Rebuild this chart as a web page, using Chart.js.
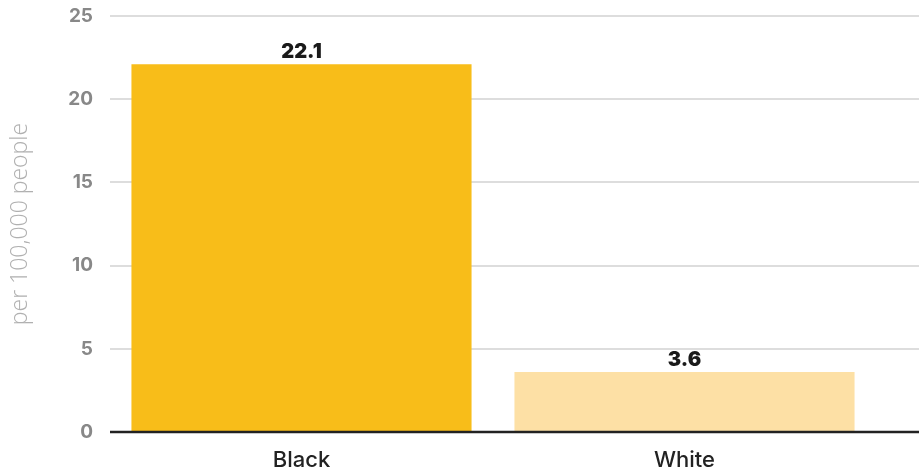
<!DOCTYPE html>
<html>
<head>
<meta charset="utf-8">
<script src="https://cdn.jsdelivr.net/npm/chart.js@4"></script>
<style>
  html, body { margin: 0; padding: 0; background: #ffffff; }
  #wrap { width: 919px; height: 473px; }
</style>
</head>
<body>
<div id="wrap"><canvas id="chart" width="919" height="473"></canvas></div>
<script>
// Rate per 100,000 people, by race
const categories = ['Black', 'White'];
const rates = [22.1, 3.6];
const barColors = ['#F8BD19', '#FDE0A5'];
const yTicks = [0, 5, 10, 15, 20, 25];

// Horizontal grid lines run the full width of the canvas, past the plot area
const fullWidthGrid = {
  id: 'fullWidthGrid',
  beforeDatasetsDraw(chart) {
    const { ctx, chartArea, scales } = chart;
    ctx.save();
    ctx.strokeStyle = '#dddddd';
    ctx.lineWidth = 2;
    yTicks.forEach(v => {
      if (v === 0) return;
      const y = Math.round(scales.y.getPixelForValue(v));
      ctx.beginPath();
      ctx.moveTo(chartArea.left, y);
      ctx.lineTo(chart.width, y);
      ctx.stroke();
    });
    ctx.restore();
  },
  afterDatasetsDraw(chart) {
    const { ctx, chartArea, scales } = chart;
    const y = Math.round(scales.y.getPixelForValue(0));
    ctx.save();
    ctx.strokeStyle = '#222222';
    ctx.lineWidth = 2.5;
    ctx.beginPath();
    ctx.moveTo(chartArea.left, y);
    ctx.lineTo(chart.width, y);
    ctx.stroke();
    ctx.restore();
  }
};

// Value labels above each bar
const valueLabels = {
  id: 'valueLabels',
  afterDatasetsDraw(chart) {
    const { ctx } = chart;
    const meta = chart.getDatasetMeta(0);
    ctx.save();
    ctx.font = '900 20px Inter';
    ctx.fillStyle = '#1a1a1a';
    ctx.textAlign = 'center';
    ctx.textBaseline = 'alphabetic';
    meta.data.forEach((bar, i) => {
      ctx.fillText(rates[i].toFixed(1), bar.x, bar.y - 6);
    });
    ctx.restore();
  }
};

new Chart(document.getElementById('chart'), {
  type: 'bar',
  data: {
    labels: categories,
    datasets: [{
      data: rates,
      backgroundColor: barColors,
      borderWidth: 0,
      barPercentage: 0.888,
      categoryPercentage: 1.0
    }]
  },
  options: {
    responsive: false,
    animation: false,
    devicePixelRatio: 1,
    layout: { padding: { top: 16, right: 43, bottom: 0, left: 0 } },
    plugins: {
      legend: { display: false },
      tooltip: { enabled: false }
    },
    scales: {
      x: {
        afterFit(scale) { scale.height = 41; },
        grid: { display: false, drawTicks: false },
        border: { display: false },
        ticks: {
          color: '#222222',
          font: { family: 'Inter', size: 22, weight: 500 },
          padding: 15
        }
      },
      y: {
        min: 0,
        max: 25,
        afterBuildTicks(scale) {
          scale.ticks = yTicks.map(v => ({ value: v }));
        },
        afterFit(scale) {
          scale.width = 110;
          scale.paddingTop = 0;
          scale.paddingBottom = 0;
        },
        grid: { display: false, drawTicks: false },
        border: { display: false },
        ticks: {
          color: '#888888',
          font: { family: 'Inter', size: 19, weight: 700 },
          padding: 17
        },
        title: {
          display: true,
          text: 'per 100,000 people',
          color: '#b0b0b0',
          font: { family: 'Open Sans', size: 23, weight: 300 },
          padding: { top: 7, bottom: 0 }
        }
      }
    }
  },
  plugins: [fullWidthGrid, valueLabels]
});
</script>
</body>
</html>
